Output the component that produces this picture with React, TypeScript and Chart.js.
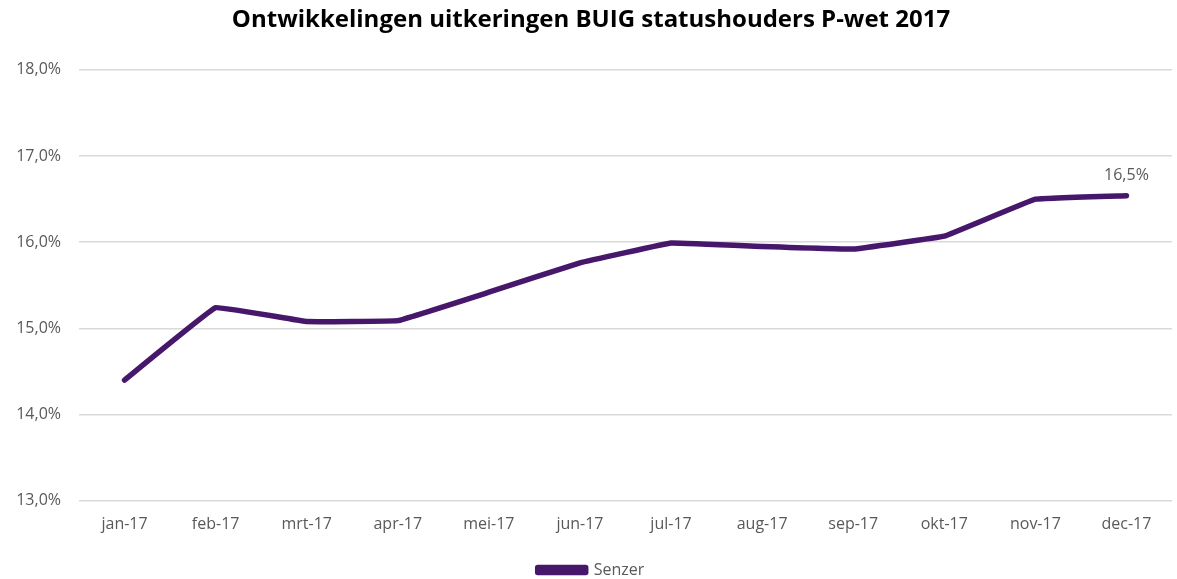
import React, { useEffect, useRef } from "react";
import { Chart, registerables } from "chart.js";

Chart.register(...registerables);

const categories = ["jan-17", "feb-17", "mrt-17", "apr-17", "mei-17", "jun-17", "jul-17", "aug-17", "sep-17", "okt-17", "nov-17", "dec-17"];
const senzer = [14.4, 15.24, 15.08, 15.09, 15.42, 15.76, 15.99, 15.95, 15.92, 16.07, 16.5, 16.54];
const yTicks = [13, 14, 15, 16, 17, 18];
const lastLabel = "16,5%";

const LINE_COLOR = "#46176a";
const FONT = "'Open Sans', sans-serif";

const lastLabelPlugin = {
  id: "lastLabel",
  afterDatasetsDraw(chart: any) {
    const meta = chart.getDatasetMeta(0);
    const pt = meta.data[meta.data.length - 1];
    if (!pt) return;
    const ctx = chart.ctx;
    ctx.save();
    ctx.font = `16px ${FONT}`;
    ctx.fillStyle = "#595959";
    ctx.textAlign = "center";
    ctx.textBaseline = "bottom";
    ctx.fillText(lastLabel, pt.x, pt.y - 12);
    ctx.restore();
  },
};

export default function App() {
  const ref = useRef<HTMLCanvasElement>(null);
  useEffect(() => {
    document.body.style.margin = "0";
    const chart = new Chart(ref.current!, {
      type: "line",
      data: {
        labels: categories,
        datasets: [
          {
            label: "Senzer",
            data: senzer,
            borderColor: LINE_COLOR,
            backgroundColor: LINE_COLOR,
            borderWidth: 5.5,
            pointRadius: 0,
            tension: 0.05,
            borderCapStyle: "round",
            borderJoinStyle: "round",
          },
        ],
      },
      options: {
        animation: false,
        responsive: false,
        layout: { padding: { left: 10, right: 5, top: 4, bottom: -9 } },
        plugins: {
          title: {
            display: true,
            text: "Ontwikkelingen uitkeringen BUIG statushouders P-wet 2017",
            color: "#000000",
            font: { family: FONT, size: 24, weight: "bold" },
            padding: { top: 2, bottom: 35 },
          },
          legend: {
            display: true,
            position: "bottom",
            labels: {
              color: "#595959",
              font: { family: FONT, size: 16 },
              boxWidth: 48,
              boxHeight: 5,
              padding: 2,
            },
          },
          tooltip: { enabled: false },
        },
        scales: {
          x: {
            offset: true,
            grid: { display: false },
            border: { display: false },
            ticks: { color: "#595959", font: { family: FONT, size: 16 }, padding: 6 },
            afterFit: (axis: any) => {
              axis.height = axis.height + 20;
            },
          },
          y: {
            min: yTicks[0],
            max: yTicks[yTicks.length - 1],
            afterBuildTicks: (axis: any) => {
              axis.ticks = yTicks.map((v) => ({ value: v }));
            },
            afterFit: (axis: any) => {
              axis.width = 69;
            },
            grid: { color: "#d9d9d9", lineWidth: 1.5, drawTicks: false },
            border: { display: false },
            ticks: {
              color: "#595959",
              font: { family: FONT, size: 16 },
              padding: 18,
              callback: (v: any) => Number(v).toFixed(1).replace(".", ",") + "%",
            },
          },
        },
      },
      plugins: [lastLabelPlugin],
    });
    return () => chart.destroy();
  }, []);
  return <canvas ref={ref} width={1177} height={579} style={{ display: "block" }} />;
}
